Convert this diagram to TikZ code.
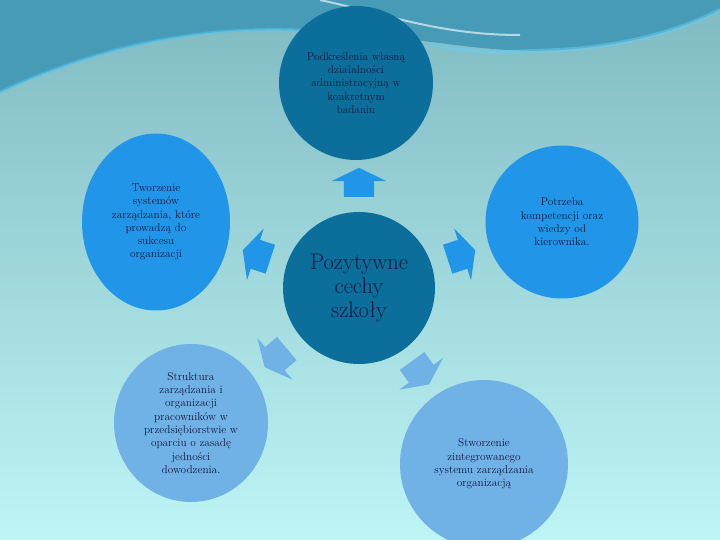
\documentclass[tikz,border=0pt]{standalone}
\usepackage{fontspec}
\usetikzlibrary{shapes.geometric,shapes.arrows}
\definecolor{ciemny}{RGB}{12,110,155}
\definecolor{jasny}{RGB}{33,150,232}
\definecolor{blady}{RGB}{112,178,230}
\definecolor{napis}{RGB}{18,24,62}
\definecolor{tlogora}{RGB}{128,186,194}
\definecolor{tlodol}{RGB}{190,245,245}
\definecolor{fala}{RGB}{72,155,182}
\tikzset{
%Define style for circles
    kolo/.style={
           circle,
           inner sep=0pt,
           text=napis,
           align=center,
           font=\fontsize{11.3}{13.3}\selectfont},
    kolo2/.style={
           ellipse,
           inner sep=0pt,
           text=napis,
           align=center,
           font=\fontsize{11.3}{13.3}\selectfont},
%Define style for block arrows
    strzal/.style={
           single arrow,
           inner xsep=0pt,
           inner ysep=15pt,
           minimum height=29pt,
           single arrow tip angle=128,
           single arrow head extend=12pt,
           single arrow head indent=0pt}
}
\begin{document}
\begin{tikzpicture}[x=1pt,y=1pt]
 \useasboundingbox (0,0) rectangle (720,540);
 \clip (0,0) rectangle (720,540);
% background
 \shade[top color=tlogora, bottom color=tlodol] (0,0) rectangle (720,540);
 \fill[fala] (0,540) -- (0,448) .. controls (80,485) and (180,515) .. (300,510)
   .. controls (420,505) and (480,485) .. (560,490)
   .. controls (640,495) and (690,515) .. (720,530) -- (720,540) -- cycle;
 \draw[cyan!70!white, line width=3pt, opacity=0.5] (0,448) .. controls (80,485) and (180,515) .. (300,510);
 \draw[cyan!60!white, line width=4pt, opacity=0.5] (430,496) .. controls (480,485) and (500,488) .. (560,490)
   .. controls (640,495) and (690,515) .. (720,530);
 \draw[white, line width=2pt, opacity=0.6] (320,540) .. controls (390,525) and (440,505) .. (520,505);
% circles
 \node[kolo, fill=ciemny, minimum size=152pt, font=\fontsize{22.5}{24}\selectfont] (centrum) at (359,252)
   {Pozytywne\\cechy\\szkoły};
 \node[kolo, fill=ciemny, minimum size=154pt] (gora) at (356,457)
   {Podkreślenia własną\\działalności\\administracyjną w\\konkretnym\\badaniu};
 \node[kolo2, fill=jasny, minimum width=148pt, minimum height=177pt] (lewy) at (156,318)
   {Tworzenie\\systemów\\zarządzania, które\\prowadzą do\\sukcesu\\organizacji};
 \node[kolo, fill=jasny, minimum size=153pt] (prawy) at (562,318)
   {Potrzeba\\kompetencji oraz\\wiedzy od\\kierownika.};
 \node[kolo2, fill=blady, minimum width=154pt, minimum height=158pt] (lewydol) at (191,117)
   {Struktura\\zarządzania i\\organizacji\\pracowników w\\przedsiębiorstwie w\\oparciu o zasadę\\jedności\\dowodzenia.};
 \node[kolo, fill=blady, minimum size=168pt] (prawydol) at (484,76)
   {Stworzenie\\zintegrowanego\\systemu zarządzania\\organizacją};
% arrows
 \node[strzal, fill=jasny, rotate=90] (s1) at ([shift={(90:102)}]centrum.center) {};
 \node[strzal, fill=jasny, rotate=162] (s2) at ([shift={(162:104)}]centrum.center) {};
 \node[strzal, fill=jasny, rotate=18] (s3) at ([shift={(18:104)}]centrum.center) {};
 \node[strzal, fill=blady, rotate=220] (s4) at ([shift={(220:105)}]centrum.center) {};
 \node[strzal, fill=blady, rotate=306] (s5) at ([shift={(306:101)}]centrum.center) {};
\end{tikzpicture}
\end{document}
